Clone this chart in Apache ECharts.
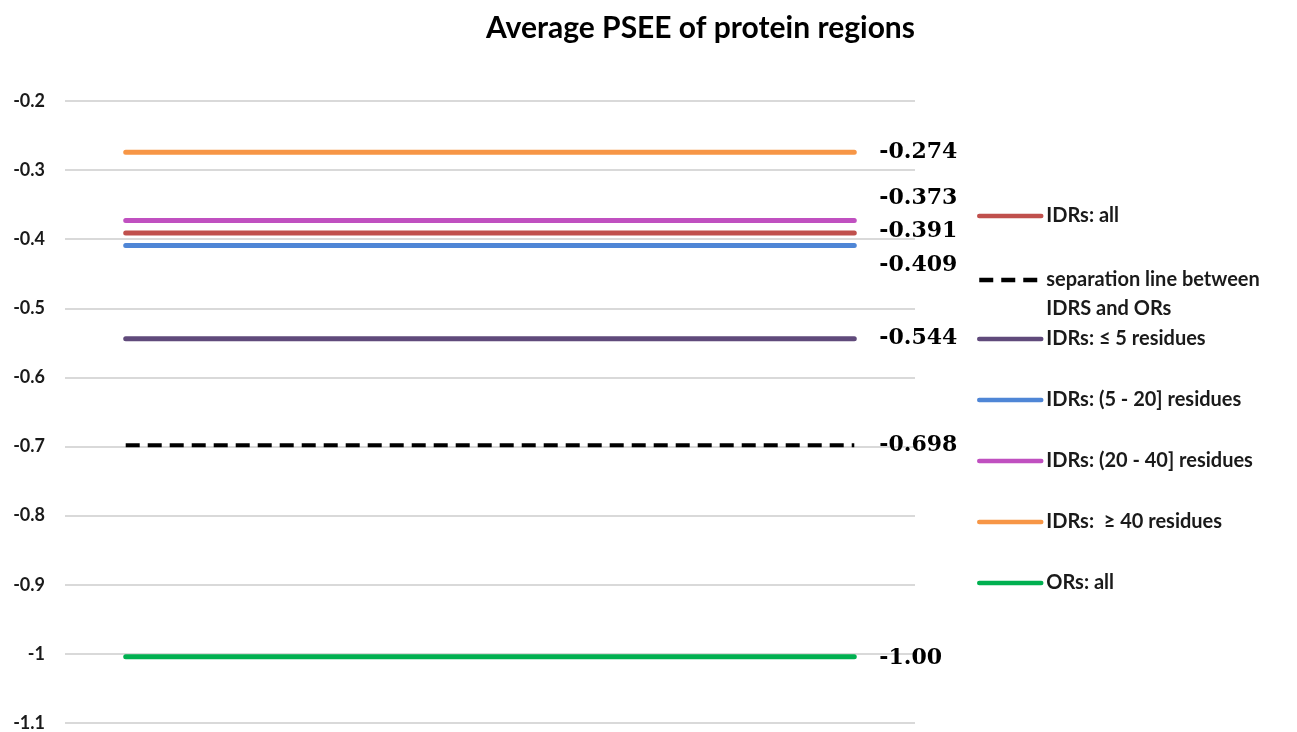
<!DOCTYPE html>
<html><head><meta charset="utf-8">
<script src="https://cdn.jsdelivr.net/npm/echarts@6/dist/echarts.min.js"></script>
<style>html,body{margin:0;padding:0;background:#fff}#c{width:1297px;height:732px}</style>
</head><body><div id="c"></div>
<script>
const categories = ['1','2','3','4','5','6','7'];
const seriesNames = ['IDRs: all', 'separation line between\nIDRS and ORs', 'IDRs: \u2264 5 residues', 'IDRs: (5 - 20] residues', 'IDRs: (20 - 40] residues', 'IDRs:  \u2265 40 residues', 'ORs: all'];
const idrsAll   = [-0.391, -0.391, -0.391, -0.391, -0.391, -0.391, -0.391];
const sepLine   = [-0.698, -0.698, -0.698, -0.698, -0.698, -0.698, -0.698];
const idrsLe5   = [-0.544, -0.544, -0.544, -0.544, -0.544, -0.544, -0.544];
const idrs5to20 = [-0.409, -0.409, -0.409, -0.409, -0.409, -0.409, -0.409];
const idrs20to40= [-0.373, -0.373, -0.373, -0.373, -0.373, -0.373, -0.373];
const idrsGe40  = [-0.274, -0.274, -0.274, -0.274, -0.274, -0.274, -0.274];
const orsAll    = [-1.004, -1.004, -1.004, -1.004, -1.004, -1.004, -1.004];
const valueLabels = ['-0.391', '-0.698', '-0.544', '-0.409', '-0.373', '-0.274', '-1.00'];
const yTicks = {min: -1.1, max: -0.2, interval: 0.1};

const seriesData = [idrsAll, sepLine, idrsLe5, idrs5to20, idrs20to40, idrsGe40, orsAll];
const colors = ['#C0504D', '#000000', '#604A7B', '#4F86D6', '#C050C0', '#F79646', '#00B050'];
const labelOffsets = [[0,-2],[0,0],[0,0],[0,20],[0,-22],[0,0],[0,2]];

const chart = echarts.init(document.getElementById('c'), null, {renderer: 'canvas'});
const legendText = {fontFamily: 'Lato', fontWeight: 'bold', fontSize: 20, color: '#1a1a1a', lineHeight: 20};
const legendCommon = {orient: 'vertical', left: 977, padding: 0, itemWidth: 62, itemHeight: 14,
  selectedMode: false, itemStyle: {opacity: 0}, lineStyle: {width: 4.5}};
chart.setOption({
  animation: false,
  title: {
    text: 'Average PSEE of protein regions', left: 481, top: 8,
    textStyle: {fontFamily: 'Lato', fontWeight: 'bold', fontSize: 30, color: '#000'}
  },
  grid: {left: 65, right: 382, top: 101, bottom: 9},
  legend: [
    Object.assign({data: [seriesNames[0]], top: 206, textStyle: legendText}, legendCommon),
    Object.assign({data: [seriesNames[1]], top: 236.5,
      formatter: name => '\n' + name,
      textStyle: Object.assign({}, legendText, {lineHeight: 29})}, legendCommon),
    Object.assign({data: seriesNames.slice(2), top: 329, itemGap: 41, textStyle: legendText}, legendCommon)
  ],
  xAxis: {
    type: 'category', data: categories, boundaryGap: true,
    axisLine: {show: false}, axisTick: {show: false}, axisLabel: {show: false}
  },
  yAxis: {
    type: 'value', min: yTicks.min, max: yTicks.max, interval: yTicks.interval,
    axisLine: {show: false}, axisTick: {show: false},
    axisLabel: {margin: 20, fontFamily: 'Lato', fontWeight: 'bold', fontSize: 18, color: '#1a1a1a'},
    splitLine: {lineStyle: {color: '#D9D9D9', width: 2}}
  },
  series: seriesData.map((d, i) => ({
    name: seriesNames[i], type: 'line', data: d, symbol: 'none',
    color: colors[i],
    lineStyle: {color: colors[i], width: i === 1 ? 4 : 5, type: i === 1 ? [14, 8] : 'solid', cap: i === 1 ? 'butt' : 'round'},
    z: i === 1 ? 3 : 2,
    endLabel: {
      show: true, distance: 25, offset: labelOffsets[i],
      formatter: () => valueLabels[i],
      fontFamily: 'DejaVu Serif', fontWeight: 'bold', fontSize: 22, color: '#000'
    }
  }))
});
</script></body></html>
